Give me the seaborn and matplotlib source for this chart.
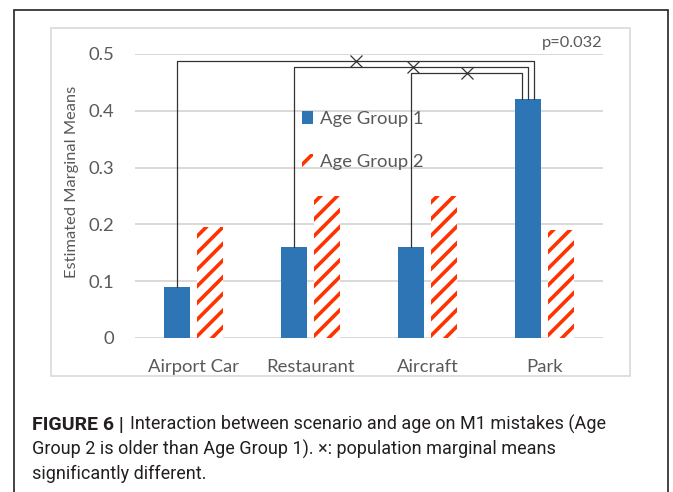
import matplotlib
matplotlib.use("Agg")
import matplotlib.pyplot as plt
from matplotlib.patches import Rectangle, Patch
import seaborn as sns
import pandas as pd

# ---- data ----
categories = ["Airport Car", "Restaurant", "Aircraft", "Park"]
group_names = ["Age Group 1", "Age Group 2"]
age_group_1 = [0.09, 0.16, 0.16, 0.42]
age_group_2 = [0.195, 0.25, 0.25, 0.19]
y_ticks = [0, 0.1, 0.2, 0.3, 0.4, 0.5]
y_tick_labels = ["0", "0.1", "0.2", "0.3", "0.4", "0.5"]
# significance brackets: from category (group 1 bar) to Park (group 1 bar)
bracket_from = ["Airport Car", "Restaurant", "Aircraft"]
bracket_heights = [0.488, 0.477, 0.467]
bracket_end_shift = [0.05, 0.0, -0.055]
marker_x = [1.39, 1.88, 2.34]
p_text = "p=0.032"

BLUE = "#2E75B6"
RED = "#FF3300"
GRAY_TXT = "#595959"
GRID = "#D9D9D9"

sns.set_theme(style="white")
plt.rcParams["font.family"] = ["Lato", "DejaVu Sans"]
plt.rcParams["hatch.linewidth"] = 2.6

W, H = 673, 492
fig = plt.figure(figsize=(W / 100, H / 100), dpi=100)

def fx(px):
    return px / W

def fy(py):
    return 1 - py / H

# outer frame and chart area frame
fig.patches.append(Rectangle((fx(14), fy(505)), fx(668) - fx(14), fy(10) - fy(505),
                             transform=fig.transFigure, fill=False, edgecolor="#222222",
                             linewidth=1.2))
fig.patches.append(Rectangle((fx(51), fy(376)), fx(630) - fx(51), fy(28) - fy(376),
                             transform=fig.transFigure, fill=False, edgecolor=GRID,
                             linewidth=1.2))

ax = fig.add_axes([fx(135), fy(338), fx(603) - fx(135), fy(54) - fy(338)])

df = pd.DataFrame({
    "scenario": categories * 2,
    "group": [group_names[0]] * 4 + [group_names[1]] * 4,
    "value": age_group_1 + age_group_2,
})

sns.barplot(data=df, x="scenario", y="value", hue="group", order=categories,
            hue_order=group_names, palette=[BLUE, "white"], width=0.56, gap=0.2,
            saturation=1, legend=False, ax=ax, zorder=3)

bars = ax.patches
for i, p in enumerate(bars):
    if i >= len(categories):
        p.set_facecolor("white")
        p.set_edgecolor(RED)
        p.set_hatch("//")
        p.set_linewidth(0)
    else:
        p.set_linewidth(0)

ax.set_xlim(-0.5, 3.5)
ax.set_ylim(0, 0.5)
ax.set_yticks(y_ticks)
ax.set_yticklabels(y_tick_labels)
ax.grid(axis="y", color=GRID, linewidth=1.4, zorder=0)
ax.grid(axis="x", visible=False)
for s in ax.spines.values():
    s.set_visible(False)
ax.tick_params(axis="y", length=0, pad=15, labelsize=13.3, labelcolor=GRAY_TXT)
ax.tick_params(axis="x", length=0, pad=15, labelsize=13.3, labelcolor=GRAY_TXT)
ax.set_xlabel("")
ax.set_ylabel("Estimated Marginal Means", fontsize=11.8, color=GRAY_TXT)
ax.yaxis.label.set_verticalalignment("center")
ax.yaxis.set_label_coords(-0.1346, 0.55)

# bar centers of group 1 taken from the drawn patches
g1_centers = [bars[i].get_x() + bars[i].get_width() / 2 for i in range(len(categories))]
park_x = g1_centers[categories.index("Park")]
park_top = age_group_1[categories.index("Park")]
for cat, h, sh, mx in zip(bracket_from, bracket_heights, bracket_end_shift, marker_x):
    i = categories.index(cat)
    x0 = g1_centers[i]
    y0 = age_group_1[i]
    x1 = park_x + sh
    ax.plot([x0, x0, x1, x1], [y0, h, h, park_top], color="#333333", linewidth=0.9,
            zorder=4, clip_on=False)
    ax.plot([mx], [h], marker="x", markersize=9, markeredgewidth=0.9, color="#333333",
            zorder=5, clip_on=False)

ax.text(0.998, 1.039, p_text, transform=ax.transAxes, ha="right", va="center",
        fontsize=11.8, color=GRAY_TXT)

handles = [Patch(facecolor=BLUE, edgecolor="none"),
           Patch(facecolor="white", edgecolor=RED, hatch="//", linewidth=0)]
leg = ax.legend(handles, group_names, loc="upper left",
                bbox_to_anchor=(fx(302), fy(111)), bbox_transform=fig.transFigure,
                frameon=False, fontsize=13.3, handlelength=0.6, handleheight=0.7,
                handletextpad=0.35, labelspacing=1.45, borderpad=0, borderaxespad=0)
for t in leg.get_texts():
    t.set_color(GRAY_TXT)

# caption
cap_font = ["Roboto", "DejaVu Sans"]
cap_col = "#231F20"
cap_size = 13.0
bold = fig.text(fx(32), fy(430), "FIGURE 6 |", fontsize=14.0, fontweight="bold",
                family=cap_font, color=cap_col, va="baseline", ha="left")
fig.canvas.draw()
bb = bold.get_window_extent(renderer=fig.canvas.get_renderer())
x_after = (bb.x1 + 6) / fig.bbox.width
fig.text(x_after, fy(430), "Interaction between scenario and age on M1 mistakes (Age",
         fontsize=cap_size, family=cap_font, color=cap_col, va="baseline", ha="left")
fig.text(fx(32), fy(454.5), "Group 2 is older than Age Group 1). \u00d7: population marginal means",
         fontsize=cap_size, family=cap_font, color=cap_col, va="baseline", ha="left")
fig.text(fx(32), fy(479), "significantly different.",
         fontsize=cap_size, family=cap_font, color=cap_col, va="baseline", ha="left")

fig.savefig("out.png", dpi=100)
